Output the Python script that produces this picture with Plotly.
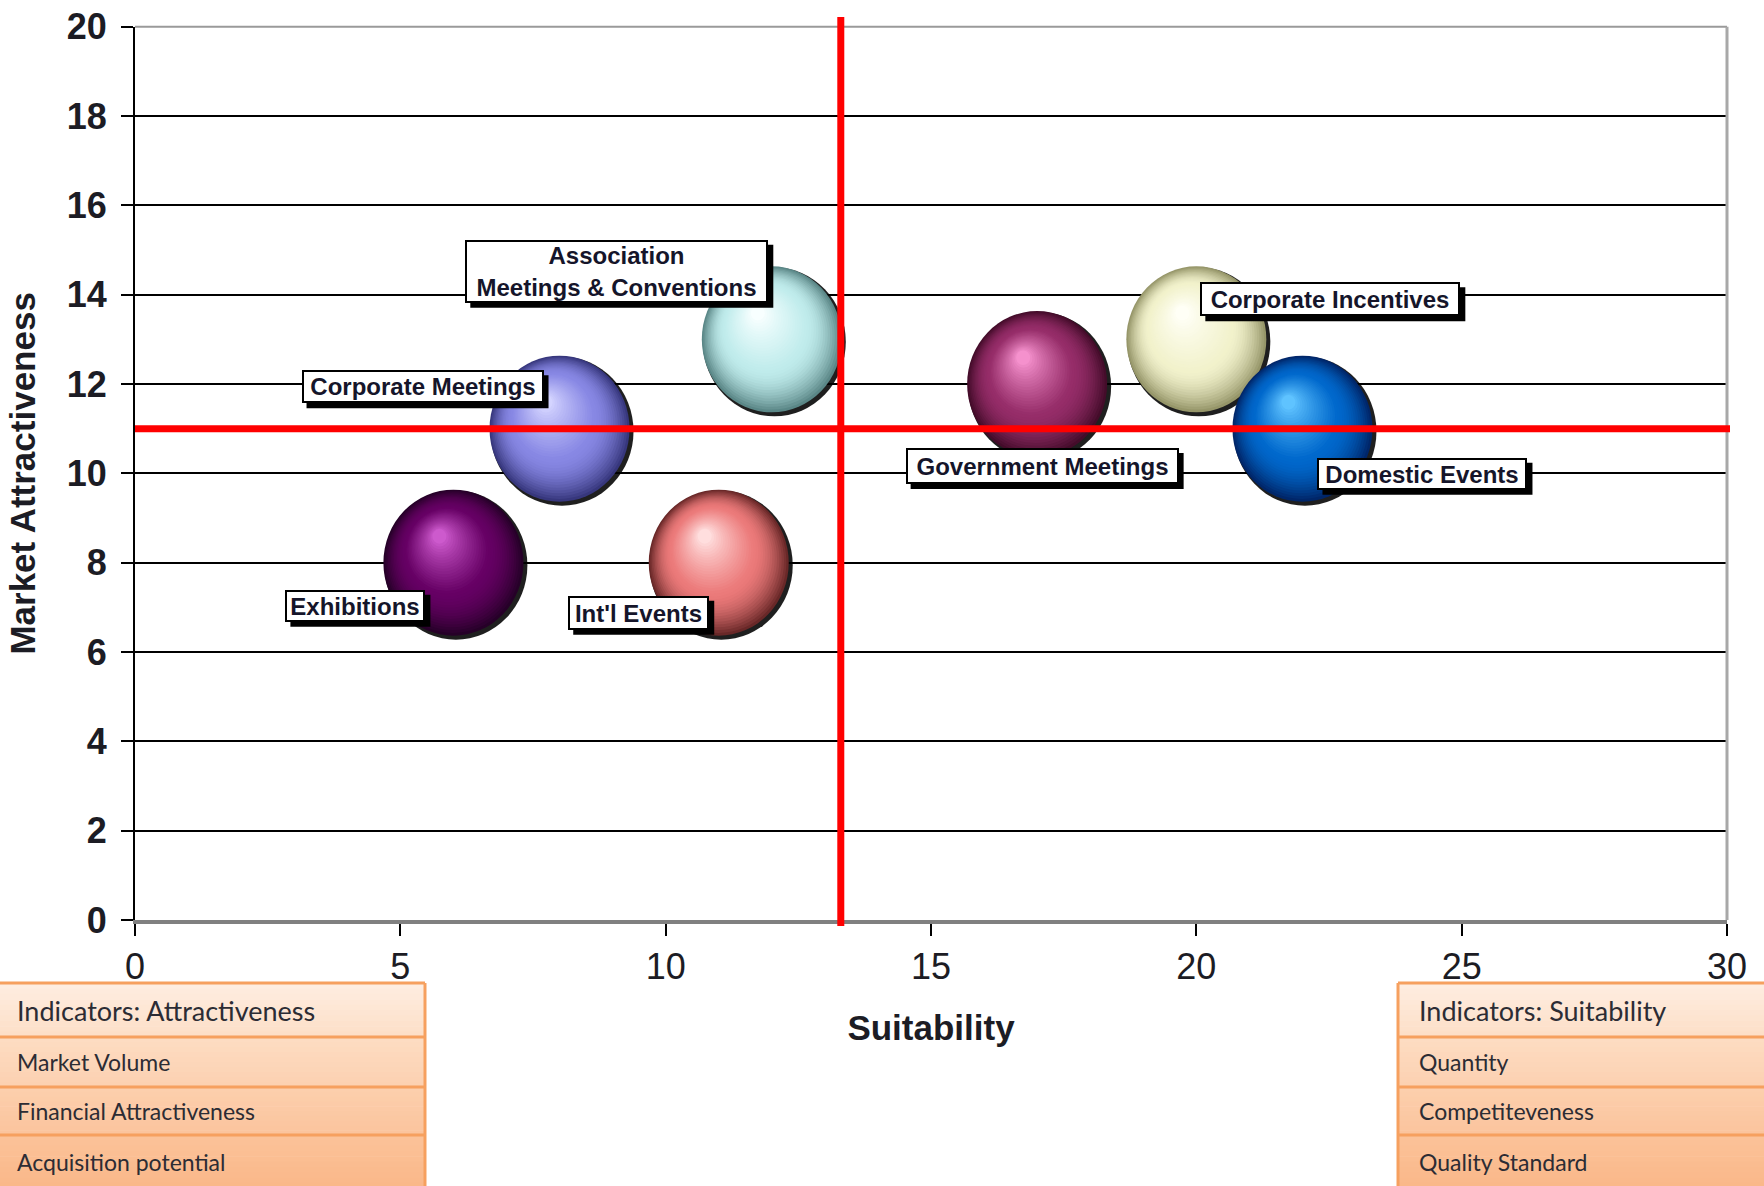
import plotly.graph_objects as go

W, H = 1764, 1186

# ---- data -------------------------------------------------------------
segments = [
    "Exhibitions",
    "Int'l Events",
    "Corporate Meetings",
    "Association<br>Meetings & Conventions",
    "Government Meetings",
    "Corporate Incentives",
    "Domestic Events",
]
suitability = [6, 11, 8, 12, 17, 20, 22]
attractiveness = [8, 8, 11, 13, 12, 13, 11]

suitability_cut = 13.3
attractiveness_cut = 11

x_ticks = [0, 5, 10, 15, 20, 25, 30]
y_ticks = [0, 2, 4, 6, 8, 10, 12, 14, 16, 18, 20]

attractiveness_indicators = [
    "Indicators: Attractiveness",
    "Market Volume",
    "Financial Attractiveness",
    "Acquisition potential",
]
suitability_indicators = [
    "Indicators: Suitability",
    "Quantity",
    "Competiteveness",
    "Quality Standard",
]

# ---- styling ----------------------------------------------------------
# (rim, body, highlight) colour of every sphere
sphere_palette = [
    ((38, 0, 40), (102, 0, 100), (205, 90, 205)),
    ((105, 40, 40), (236, 122, 122), (255, 222, 222)),
    ((55, 55, 125), (135, 135, 228), (212, 212, 255)),
    ((90, 135, 135), (192, 236, 236), (248, 255, 255)),
    ((68, 12, 42), (150, 45, 105), (245, 145, 205)),
    ((150, 150, 105), (242, 242, 204), (255, 255, 246)),
    ((0, 38, 105), (0, 104, 204), (95, 195, 255)),
]
# callout box: pixel shift from the sphere centre, and box size
label_offsets = [(-98, -43), (-80, -50), (-137, 42), (-155, 68),
                 (5, -82), (134, 40), (120, -45)]
label_boxes = [(140, 32), (141, 34), (242, 33), (303, 63),
               (273, 36), (260, 34), (210, 32)]

ARIAL = "Liberation Sans, Arial, sans-serif"
TABLE_FONT = "Lato, Open Sans, sans-serif"
INK = "#1c1c24"


def rgb(c):
    return "rgb(%d,%d,%d)" % tuple(round(v) for v in c)


def blend(a, b, t):
    t = min(max(t, 0.0), 1.0)
    return tuple(a[i] + (b[i] - a[i]) * t for i in range(3))


def px(xp):
    return xp / W


def py(yp):
    return 1 - yp / H


fig = go.Figure()

# hover layer carrying the segment positions
fig.add_trace(go.Scatter(
    x=suitability, y=attractiveness, mode="markers",
    marker=dict(size=140, opacity=0),
    hovertext=[s.replace("<br>", " ") for s in segments], hoverinfo="text+x+y",
    showlegend=False,
))

shapes = []
annotations = []

# ---- shaded spheres ---------------------------------------------------
RX, RY = 70, 73
LAYERS = 34
for x, y, (rim, body, hi) in zip(suitability, attractiveness, sphere_palette):
    base = dict(type="circle", xref="x", yref="y", xsizemode="pixel",
                ysizemode="pixel", xanchor=x, yanchor=y,
                line=dict(width=0), layer="above")
    # dark crescent on the lower right
    shapes.append(dict(base, x0=-RX + 1, x1=RX + 4, y0=-RY - 4, y1=RY - 1,
                       fillcolor="rgba(0,0,0,0.88)"))
    for i in range(LAYERS):
        s = 1 - 0.9 * i / (LAYERS - 1)
        k = (1 - s) / 0.9
        cx, cy = -0.2 * RX * k, 0.36 * RY * k
        if s > 0.6:
            col = blend(body, rim, max(0.0, (s - 0.6) / 0.4) ** 1.7)
        else:
            col = blend(hi, body, max(0.0, (s - 0.1) / 0.5) ** 0.85)
        shapes.append(dict(base, x0=cx - RX * s, x1=cx + RX * s,
                           y0=cy - RY * s, y1=cy + RY * s,
                           fillcolor=rgb(col)))

# ---- frame lines on top / right ---------------------------------------
shapes.append(dict(type="line", xref="x domain", yref="y domain",
                   x0=0, x1=1, y0=1, y1=1,
                   line=dict(color="#9a9a9a", width=2), layer="above"))
shapes.append(dict(type="line", xref="x domain", yref="y domain",
                   x0=1, x1=1, y0=0, y1=1,
                   line=dict(color="#a8a8a8", width=3), layer="above"))

# ---- quadrant dividers (run slightly past the frame) ------------------
shapes.append(dict(type="line", xref="x", yref="paper",
                   x0=suitability_cut, x1=suitability_cut, y0=py(926), y1=py(17),
                   line=dict(color="#ff0000", width=7), layer="above"))
shapes.append(dict(type="line", xref="paper", yref="y",
                   x0=px(135), x1=px(1730), y0=attractiveness_cut, y1=attractiveness_cut,
                   line=dict(color="#ff0000", width=7), layer="above"))

# ---- callout boxes with drop shadow -----------------------------------
for name, x, y, (dx, dy), (bw, bh) in zip(segments, suitability, attractiveness,
                                          label_offsets, label_boxes):
    shapes.append(dict(type="rect", xref="x", yref="y", xsizemode="pixel",
                       ysizemode="pixel", xanchor=x, yanchor=y,
                       x0=dx - bw / 2 + 5, x1=dx + bw / 2 + 5,
                       y0=dy - bh / 2 - 5, y1=dy + bh / 2 - 5,
                       fillcolor="#000", line=dict(width=0), layer="above"))
    annotations.append(dict(
        x=x, y=y, xref="x", yref="y", text=name, showarrow=False,
        xanchor="center", yanchor="middle", align="center", valign="middle",
        xshift=dx, yshift=dy, width=bw - 4, height=bh - 4,
        borderwidth=2, borderpad=0, bgcolor="#ffffff", bordercolor="#000",
        font=dict(family=ARIAL, size=24, color="#15152a", weight="bold"),
    ))

# ---- indicator tables -------------------------------------------------
row_edges = [983, 1037, 1087, 1135, 1188]
row_tints = [
    ((254, 237, 224), (253, 223, 200)),
    ((253, 220, 194), (252, 209, 177)),
    ((252, 207, 173), (251, 196, 157)),
    ((251, 194, 153), (250, 184, 137)),
]
BORDER = "rgb(246,160,95)"
tables = [
    (attractiveness_indicators, -2, 425, 15, 425),
    (suitability_indicators, 1398, 1766, 1417, 1398),
]
STRIPS = 10
for items, x0, x1, text_x, edge_x in tables:
    for r, (top, bottom) in enumerate(zip(row_edges[:-1], row_edges[1:])):
        c_top, c_bot = row_tints[r]
        step = (bottom - top) / STRIPS
        for j in range(STRIPS):
            shapes.append(dict(type="rect", xref="paper", yref="paper",
                               x0=px(x0), x1=px(x1),
                               y0=py(top + j * step), y1=py(top + (j + 1) * step + 0.6),
                               fillcolor=rgb(blend(c_top, c_bot, j / (STRIPS - 1))),
                               line=dict(width=0), layer="below"))
        annotations.append(dict(
            x=px(text_x), y=py((top + bottom) / 2), xref="paper", yref="paper",
            text=items[r], showarrow=False, xanchor="left", yanchor="middle",
            font=dict(family=TABLE_FONT, size=27 if r == 0 else 23, color="#2c2c34"),
        ))
    for yb in row_edges[:-1]:
        shapes.append(dict(type="line", xref="paper", yref="paper",
                           x0=px(x0), x1=px(x1), y0=py(yb), y1=py(yb),
                           line=dict(color=BORDER, width=3), layer="below"))
    shapes.append(dict(type="line", xref="paper", yref="paper",
                       x0=px(edge_x), x1=px(edge_x),
                       y0=py(row_edges[0]), y1=py(row_edges[-1]),
                       line=dict(color=BORDER, width=3), layer="below"))

fig.update_layout(
    width=W, height=H,
    margin=dict(l=0, r=0, t=0, b=0, pad=0, autoexpand=False),
    paper_bgcolor="white", plot_bgcolor="white",
    showlegend=False,
    shapes=shapes, annotations=annotations,
    xaxis=dict(
        domain=[px(135), px(1727)], range=[0, 30],
        tickmode="array", tickvals=x_ticks, ticktext=[str(v) for v in x_ticks],
        ticks="outside", ticklen=12, tickwidth=2, tickcolor="#000",
        showline=True, linecolor="#808080", linewidth=4,
        showgrid=False, zeroline=False,
        tickfont=dict(family=ARIAL, size=36, color=INK),
        title=dict(text="Suitability", standoff=30,
                   font=dict(family=ARIAL, size=35, color=INK, weight="bold")),
    ),
    yaxis=dict(
        domain=[py(920), py(26.7)], range=[0, 20],
        tickmode="array", tickvals=y_ticks, ticktext=[str(v) for v in y_ticks],
        ticks="outside", ticklen=12, tickwidth=2, tickcolor="#000",
        ticklabelstandoff=7,
        showline=True, linecolor="#000", linewidth=2,
        showgrid=True, gridcolor="#000", gridwidth=2, zeroline=False,
        tickfont=dict(family=ARIAL, size=36, color=INK, weight="bold"),
        title=dict(text="Market Attractiveness", standoff=20,
                   font=dict(family=ARIAL, size=35, color=INK, weight="bold")),
    ),
)

fig.write_html("out.html")
